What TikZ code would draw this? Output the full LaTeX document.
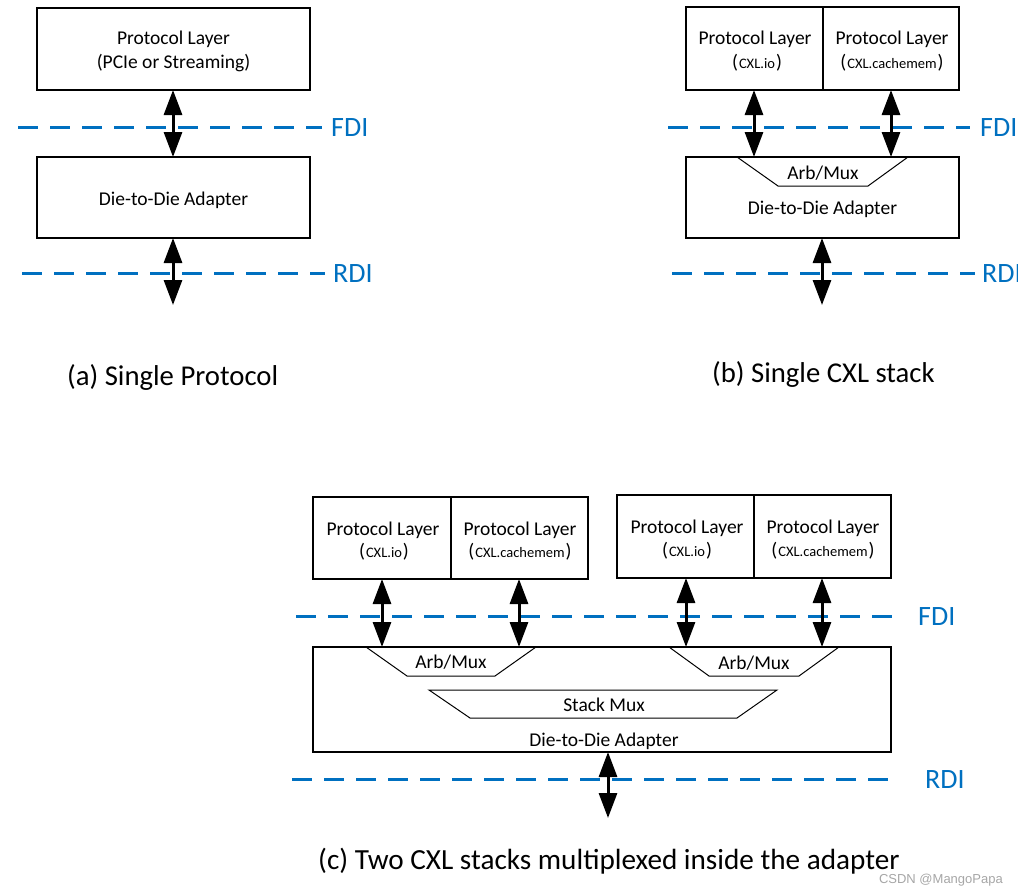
\documentclass[tikz,border=0pt]{standalone}
\usepackage{fontspec}
\setmainfont{Carlito}
\newfontfamily\wmfont{Liberation Sans}
\usetikzlibrary{arrows.meta}
\definecolor{ifblue}{RGB}{0,112,192}
\tikzset{
  x=1pt, y=-1pt,
  box/.style={draw, line width=1.6pt, inner sep=0pt, outer sep=0pt},
  txt/.style={inner sep=0pt, anchor=base, font=\fontsize{19.5}{23}\selectfont},
  small/.style={inner sep=0pt, anchor=base, font=\fontsize{19.5}{23}\selectfont},
  captext/.style={inner sep=0pt, anchor=base west, font=\fontsize{28.7}{34}\selectfont},
  iflabel/.style={inner sep=0pt, anchor=base west, text=ifblue, font=\fontsize{28}{34}\selectfont},
  ifline/.style={draw=ifblue, line width=3pt, dash pattern=on 20pt off 12pt},
  dblarrow/.style={line width=3pt, {Triangle[width=18pt,length=25pt]}-{Triangle[width=18pt,length=25pt]}},
  mux/.style={draw, line width=1pt, line join=miter},
}
\newcommand{\cxl}[1]{(\hspace{1pt}{\fontsize{14.5}{17}\selectfont #1}\hspace{1pt})}
\begin{document}
\begin{tikzpicture}
\useasboundingbox (0,0) rectangle (1018,894);

% ---------------- (a) ----------------
\node[box, minimum width=273pt, minimum height=82pt] (pa) at (173.5,49) {};
\node[txt] (pat1) at (173.5,45) {Protocol Layer};
\node[txt] (pat2) at (173.5,68) {(PCIe or Streaming)};
\node[box, minimum width=273pt, minimum height=81pt] (da) at (173.5,197.5) {};
\node[txt] (dat) at (173.5,205) {Die-to-Die Adapter};
\draw[ifline] (18,127) -- (322,127);
\node[iflabel] (fdia) at (331,136) {FDI};
\draw[ifline] (22,273) -- (325,273);
\node[iflabel] (rdia) at (333,282) {RDI};
\coordinate (ea) at (173,305);
\draw[dblarrow] (pa.south -| 173,0) -- (da.north -| 173,0);
\draw[dblarrow] (da.south -| 173,0) -- (ea);
\node[captext] (capa) at (67,385) {(a) Single Protocol};

% ---------------- (b) ----------------
\node[box, minimum width=137pt, minimum height=83pt] (pb1) at (754.5,48.5) {};
\node[box, minimum width=136pt, minimum height=83pt] (pb2) at (891,48.5) {};
\node[txt] (pb1t1) at (755,45) {Protocol Layer};
\node[small] (pb1t2) at (757,68) {\cxl{CXL.io}};
\node[txt] (pb2t1) at (892,45) {Protocol Layer};
\node[small] (pb2t2) at (892,68) {\cxl{CXL.cachemem}};
\node[box, minimum width=273pt, minimum height=81pt] (db) at (822.5,197.5) {};
\draw[mux] (737,157) -- (778,186) -- (868,186) -- (908,157);
\node[txt] (amb) at (823,179) {Arb/Mux};
\node[txt] (dbt) at (822.5,214) {Die-to-Die Adapter};
\draw[ifline] (668,127) -- (970,127);
\node[iflabel] (fdib) at (980,136) {FDI};
\draw[ifline] (672,273) -- (975,273);
\node[iflabel] (rdib) at (982,282) {RDI};
\coordinate (eb) at (822,305);
\draw[dblarrow] (pb1.south -| 754,0) -- (db.north -| 754,0);
\draw[dblarrow] (pb2.south -| 891,0) -- (db.north -| 891,0);
\draw[dblarrow] (db.south -| 822,0) -- (eb);
\node[captext] (capb) at (712,382) {(b) Single CXL stack};

% ---------------- (c) ----------------
\node[box, minimum width=138pt, minimum height=82pt] (pc1) at (382,538) {};
\node[box, minimum width=137pt, minimum height=82pt] (pc2) at (519.5,538) {};
\node[box, minimum width=137pt, minimum height=83pt] (pc3) at (685.5,536.5) {};
\node[box, minimum width=137pt, minimum height=83pt] (pc4) at (822.5,536.5) {};
\node[txt] (pc1t1) at (383,535) {Protocol Layer};
\node[small] (pc1t2) at (384,557) {\cxl{CXL.io}};
\node[txt] (pc2t1) at (520,535) {Protocol Layer};
\node[small] (pc2t2) at (520,557) {\cxl{CXL.cachemem}};
\node[txt] (pc3t1) at (687,533) {Protocol Layer};
\node[small] (pc3t2) at (687,556) {\cxl{CXL.io}};
\node[txt] (pc4t1) at (823,533) {Protocol Layer};
\node[small] (pc4t2) at (823,556) {\cxl{CXL.cachemem}};
\node[box, minimum width=578pt, minimum height=105pt] (dc) at (602,699.5) {};
\draw[mux] (366,647) -- (407,676) -- (495,676) -- (536,647);
\node[txt] (amc1) at (451,668) {Arb/Mux};
\draw[mux] (669,647) -- (709,676) -- (799,676) -- (839,647);
\node[txt] (amc2) at (754,669) {Arb/Mux};
\draw[mux] (429,690) -- (777,690) -- (737,718) -- (470,718) -- cycle;
\node[txt] (smc) at (604,711) {Stack Mux};
\node[txt] (dct) at (604,746) {Die-to-Die Adapter};
\draw[ifline] (296,616) -- (893,616);
\node[iflabel] (fdic) at (918,625) {FDI};
\draw[ifline] (292,779) -- (890,779);
\node[iflabel] (rdic) at (925,788) {RDI};
\coordinate (ec) at (608,818);
\draw[dblarrow] (pc1.south -| 382,0) -- (dc.north -| 382,0);
\draw[dblarrow] (pc2.south -| 519,0) -- (dc.north -| 519,0);
\draw[dblarrow] (pc3.south -| 686,0) -- (dc.north -| 686,0);
\draw[dblarrow] (pc4.south -| 822,0) -- (dc.north -| 822,0);
\draw[dblarrow] (dc.south -| 608,0) -- (ec);
\node[captext, font=\fontsize{29.2}{34}\selectfont] (capc) at (318,869) {(c) Two CXL stacks multiplexed inside the adapter};
\node[inner sep=0pt, anchor=base east, text=black!35, font=\wmfont\fontsize{13}{15}\selectfont] (wm) at (1003,883) {CSDN @MangoPapa};
\end{tikzpicture}
\end{document}
